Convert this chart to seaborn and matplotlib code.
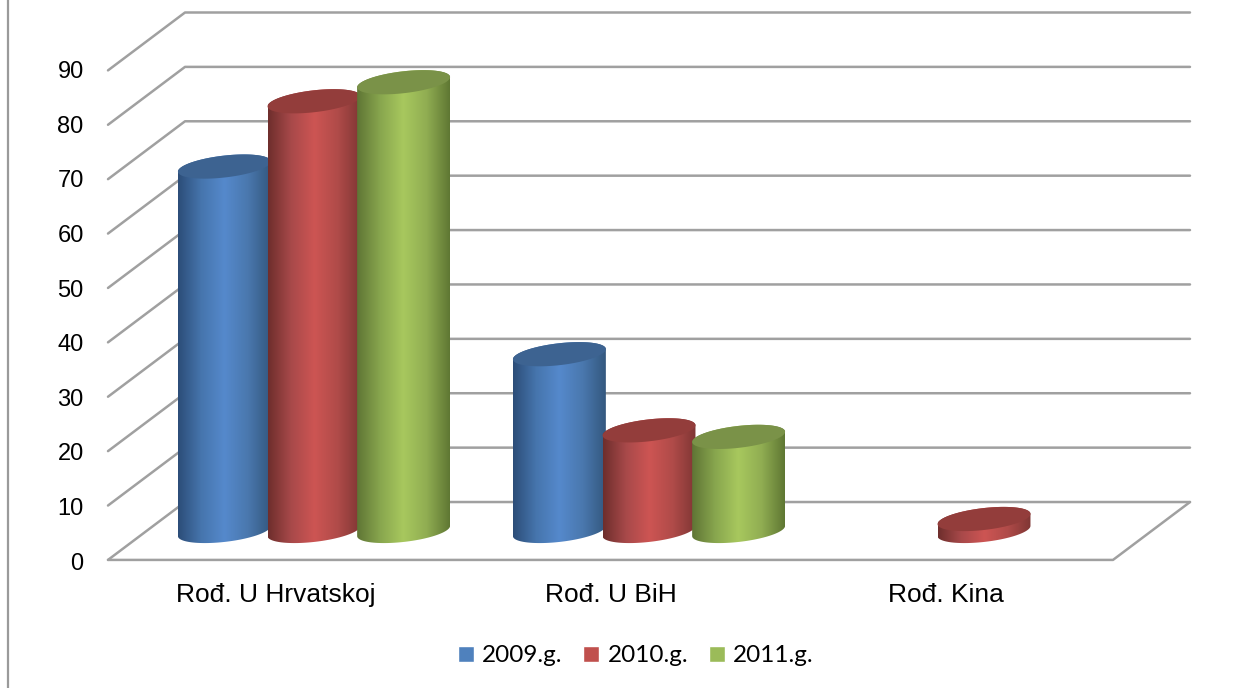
import numpy as np
import pandas as pd
import matplotlib
matplotlib.use("Agg")
import matplotlib.pyplot as plt
from matplotlib.colors import LinearSegmentedColormap
from matplotlib.lines import Line2D
from matplotlib.patches import PathPatch
from matplotlib.path import Path
import seaborn as sns

categories = ["Rođ. U Hrvatskoj", "Rođ. U BiH", "Rođ. Kina"]
years = ["2009.g.", "2010.g.", "2011.g."]
values_2009 = [67, 32.5, np.nan]
values_2010 = [79, 18.5, 2.2]
values_2011 = [82.5, 17.3, np.nan]
y_levels = [0, 10, 20, 30, 40, 50, 60, 70, 80, 90]

legend_colors = ["#4f81bd", "#c0504d", "#9bbb59"]
cap_colors = ["#3d6391", "#933d3b", "#7a9248"]
side_colors = [
    ["#2c4d78", "#4675ad", "#5589cc", "#4a78ae", "#34587f"],
    ["#6e2e2c", "#a8494a", "#cd5553", "#b04b49", "#7f3634"],
    ["#5f7535", "#88a64e", "#a8c85e", "#90ad52", "#5f7733"],
]
grid_color = "#a0a0a0"

sns.set_style("white")
plt.rcParams["font.family"] = ["Liberation Sans", "DejaVu Sans"]
plt.rcParams["text.color"] = "black"
plt.rcParams["xtick.color"] = "black"
plt.rcParams["ytick.color"] = "black"

W, H = 1245, 688
fig = plt.figure(figsize=(W / 100, H / 100), dpi=100)
# axes box = the floor/wall extent of the fake 3D chart
ax = fig.add_axes([108 / W, 1 - 561 / H, (1190 - 108) / W, (561 - 12) / H])

PX_X = 335.0    # pixels per category
PX_Y = 5.45     # pixels per unit
depth_x = 38.5 / PX_X
depth_y = 29 / PX_Y
x_lim = (-206 / PX_X, 876 / PX_X)
y_lim = (-depth_y, (532 - 12) / PX_Y)

df = pd.DataFrame({
    "kategorija": categories * 3,
    "godina": np.repeat(years, 3),
    "vrijednost": values_2009 + values_2010 + values_2011,
}).dropna()

sns.barplot(
    data=df, x="kategorija", y="vrijednost", hue="godina",
    order=categories, hue_order=years, palette=legend_colors,
    width=0.8025, gap=0, saturation=1, errorbar=None, ax=ax,
)
handles, labels = ax.get_legend_handles_labels()
if ax.get_legend() is not None:
    ax.get_legend().remove()


# Ellipse of a cylinder end, tilted a little, in data units
def ellipse(cx, cy, half_w, t):
    a = half_w * PX_X
    dx = a * np.cos(t)
    dy = 0.11 * dx + 11 * np.sin(t)
    return cx + dx / PX_X, cy + dy / PX_Y


zorder = 3
for i, container in enumerate(ax.containers):
    cmap = LinearSegmentedColormap.from_list(f"side{i}", side_colors[i])
    for bar in container:
        h = bar.get_height()
        if not np.isfinite(h) or h <= 0:
            continue
        bar.set_visible(False)
        cx = bar.get_x() + bar.get_width() / 2
        # cylinders overlap their neighbour a little
        half = bar.get_width() / 2 * 1.037

        low = np.linspace(np.pi, 2 * np.pi, 60)
        up = np.linspace(0, np.pi, 60)
        bx, by = ellipse(cx, 0, half, low)
        tx, ty = ellipse(cx, h, half, up)
        body = Path(np.column_stack([np.r_[bx, tx], np.r_[by, ty]]))
        im = ax.imshow(
            np.linspace(0, 1, 256).reshape(1, -1), cmap=cmap, aspect="auto",
            extent=(cx - half, cx + half, -3, h + 4), zorder=zorder,
        )
        im.set_clip_path(PathPatch(body, transform=ax.transData))

        t = np.linspace(0, 2 * np.pi, 120)
        ex, ey = ellipse(cx, h, half, t)
        ax.fill(ex, ey, color=cap_colors[i], lw=0, zorder=zorder + 0.5)
        zorder += 1

ax.set_xlim(x_lim)
ax.set_ylim(y_lim)

# Walls and floor
line_kw = dict(color=grid_color, lw=1.8, zorder=1, clip_on=False, solid_capstyle="round")
x_left, x_right = x_lim
for level in y_levels:
    ax.plot([x_left, x_left + 2 * depth_x, x_right],
            [level - depth_y, level + depth_y, level + depth_y], **line_kw)
ax.plot([x_left, x_right - 2 * depth_x, x_right],
        [-depth_y, -depth_y, depth_y], **line_kw)

ax.set_yticks([v * 1.0036 - depth_y - 0.2 for v in y_levels], [str(v) for v in y_levels])
ax.set_xticks([i - depth_x for i in range(len(categories))], categories)
ax.tick_params(axis="y", length=0, pad=17.5, labelsize=17, labelcolor="black")
ax.tick_params(axis="x", length=0, pad=15.5, labelsize=19, labelcolor="black")
ax.set_xlabel("")
ax.set_ylabel("")
sns.despine(ax=ax, left=True, bottom=True)

fig.legend(
    handles, labels, loc="center", bbox_to_anchor=(636 / W, 1 - 656 / H),
    ncol=3, frameon=False, labelcolor="black", prop={"family": "Lato", "size": 17.5},
    handlelength=0.65, handleheight=0.65, handletextpad=0.35, columnspacing=0.85,
)

# Frame line on the left of the page
fig.add_artist(Line2D([8 / W, 8 / W], [0, 1], color="#9a9a9a", lw=1.6))

fig.savefig("out.png", dpi=100)
